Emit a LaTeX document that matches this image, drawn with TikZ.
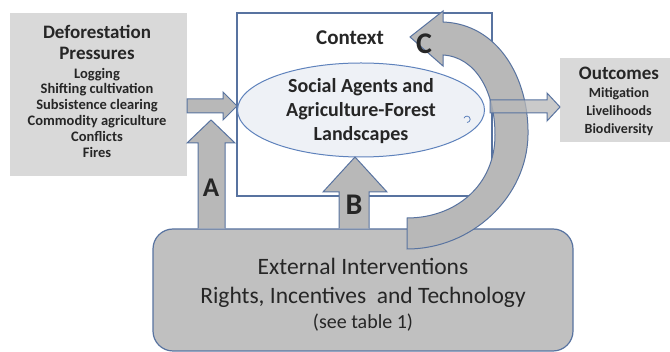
\documentclass[tikz,border=0pt]{standalone}
\usepackage{fontspec}
\setmainfont{Carlito}
\usetikzlibrary{shapes.geometric}
\definecolor{boxgray}{HTML}{D9D9D9}
\definecolor{arrowgray}{HTML}{B8B8B8}
\definecolor{extgray}{HTML}{C0C0C0}
\definecolor{edgeblue}{HTML}{5873A0}
\definecolor{ellblue}{HTML}{5E82BC}
\definecolor{ellfill}{HTML}{EEF1F6}
\definecolor{txt}{HTML}{262626}
\newcommand{\fs}[2]{\fontsize{#1}{#2}\selectfont}
\tikzset{
  graybox/.style={fill=boxgray, draw=none, inner sep=0pt},
  blockarrow/.style={fill=arrowgray, draw=edgeblue, line width=1pt, line join=miter},
  lbl/.style={text=txt, align=center, inner sep=0pt},
}
\begin{document}
\begin{tikzpicture}[x=1pt,y=-1pt]
\useasboundingbox (0,0) rectangle (670,352);
% deforestation box
\node[graybox, minimum width=177pt, minimum height=163pt] (defo) at (98.5,94.5) {};
\node[lbl, font=\bfseries\fs{19}{21}] (defot) at (97,42.5) {Deforestation\\Pressures};
\node[lbl, font=\bfseries\fs{14.5}{15.8}] (defol) at (97,112.5) {Logging\\Shifting cultivation\\Subsistence clearing\\Commodity agriculture\\Conflicts\\Fires};
% outcomes box
\node[graybox, minimum width=110pt, minimum height=84pt] (outc) at (615,100) {};
\node[lbl, font=\bfseries\fs{19}{20}] (outt) at (619,73) {Outcomes};
\node[lbl, font=\bfseries\fs{14}{18}] (outl) at (619,111.5) {Mitigation\\Livelihoods\\Biodiversity};
% context box
\node[draw=edgeblue, line width=1.2pt, fill=white, minimum width=255pt, minimum height=183pt, inner sep=0pt] (ctx) at (364.5,104.5) {};
\node[lbl, font=\bfseries\fs{21}{24}] (ctxt) at (350,38) {Context};
\node[ellipse, draw=ellblue, line width=1pt, fill=ellfill, minimum width=247pt, minimum height=94pt, inner sep=0pt] (ell) at (361,110) {};
\node[lbl, font=\bfseries\fs{20}{24}] (ellt) at (361,111) {Social Agents and\\Agriculture-Forest\\Landscapes};
\draw[ellblue, line width=0.8pt] (467,122.5) arc[start angle=90, end angle=-160, radius=3.2];
% external interventions
\node[draw=edgeblue, line width=1.2pt, fill=extgray, rounded corners=20pt, minimum width=420pt, minimum height=122pt, inner sep=0pt] (ext) at (363,290) {};
\node[lbl, font=\fs{23.5}{29}] (extt) at (363,282.5) {External Interventions\\Rights, Incentives\ \ and Technology};
\node[lbl, font=\fs{20}{22}] (exts) at (363,323) {(see table 1)};
% arrow deforestation -> context
\draw[blockarrow] (187,99) -- (223,99) -- (223,92) -- (237,106) -- (223,120) -- (223,113) -- (187,113) -- cycle;
% arrow A
\draw[blockarrow] (198,228.5) -- (198,143) -- (187,143) -- (211,120) -- (235,143) -- (225,143) -- (225,228.5);
\node[lbl, font=\bfseries\fs{27}{27}] (la) at (211,188) {A};
% arrow B
\draw[blockarrow] (339,228.5) -- (339,192) -- (323,192) -- (355,157) -- (387,192) -- (369,192) -- (369,228.5);
\node[lbl, font=\bfseries\fs{30}{30}] (lb) at (354,205) {B};
% curved arrow C
\draw[blockarrow] (407,249) .. controls (472,249) and (527,197) .. (528,135)
  .. controls (529,78) and (498,24) .. (443,22) -- (443,11) -- (410,37) -- (443,66) -- (443,55)
  .. controls (476,57) and (495,92) .. (495,135)
  .. controls (495,186) and (455,218) .. (407,218) -- cycle;
\node[lbl, font=\bfseries\fs{30}{30}] (lc) at (424,44) {C};
% arrow context -> outcomes
\draw[blockarrow, fill opacity=0.75] (490,100) -- (547,100) -- (547,93) -- (560,107) -- (547,121) -- (547,113) -- (490,113) -- cycle;
\end{tikzpicture}
\end{document}
